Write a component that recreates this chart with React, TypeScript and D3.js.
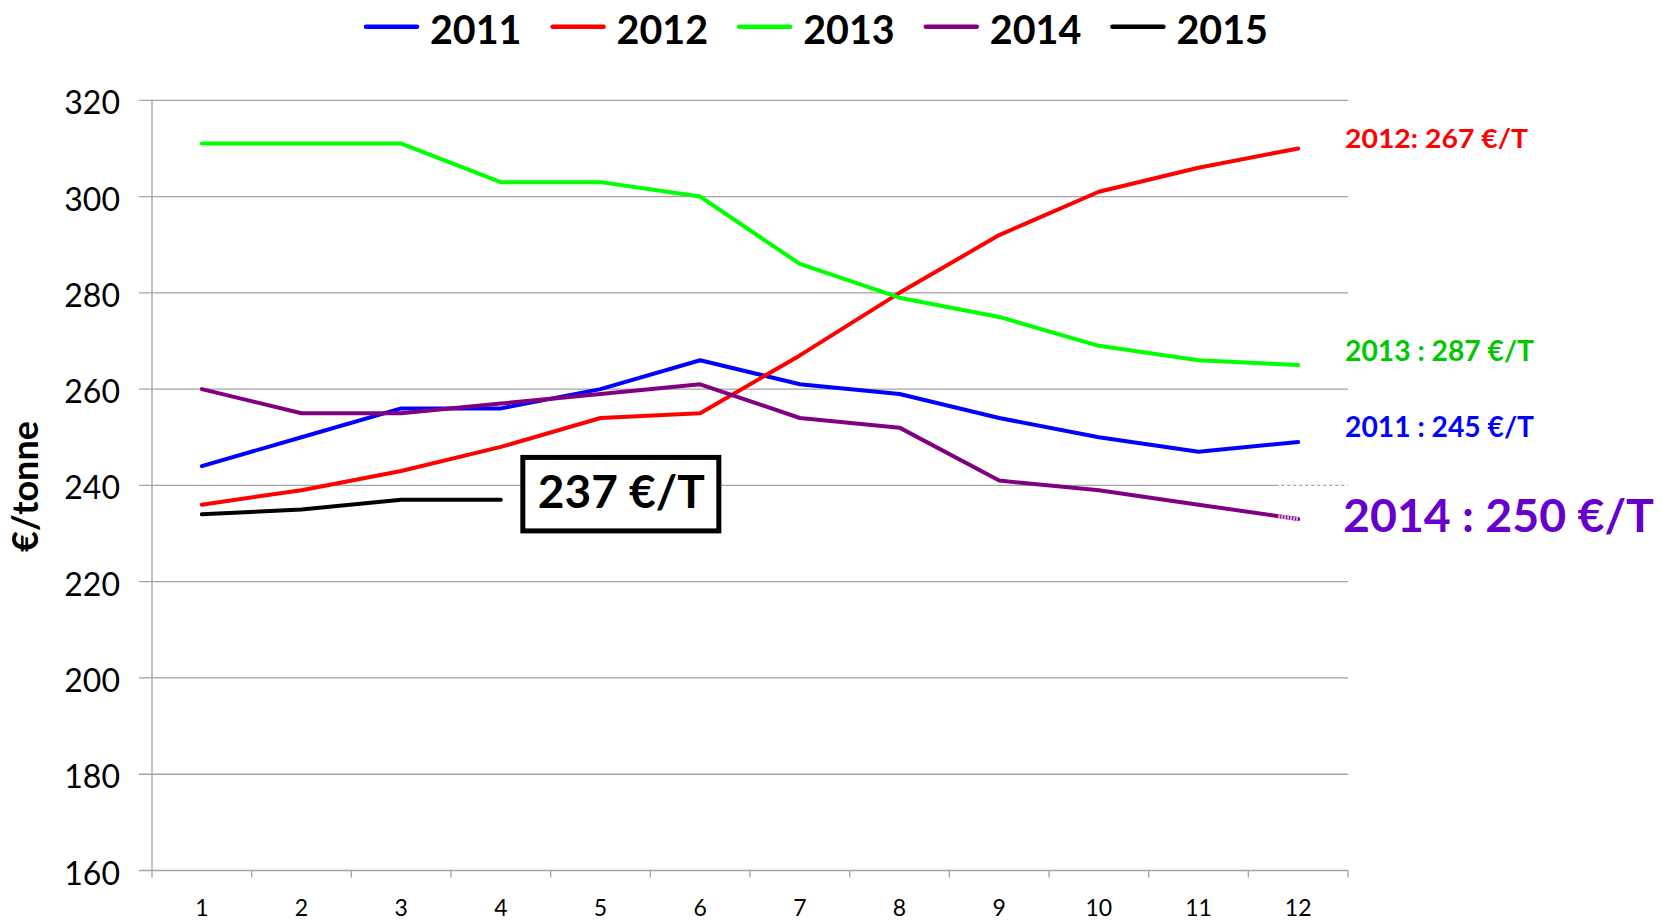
import React from "react";
import * as d3 from "d3";

const months = [1, 2, 3, 4, 5, 6, 7, 8, 9, 10, 11, 12];
const series2011 = [244, 250, 256, 256, 260, 266, 261, 259, 254, 250, 247, 249];
const series2012 = [236, 239, 243, 248, 254, 255, 267, 280, 292, 301, 306, 310];
const series2013 = [311, 311, 311, 303, 303, 300, 286, 279, 275, 269, 266, 265];
const series2014 = [260, 255, 255, 257, 259, 261, 254, 252, 241, 239, 236, 233];
const series2015 = [234, 235, 237, 237];
const yTicks = [160, 180, 200, 220, 240, 260, 280, 300, 320];
const legendNames = ["2011", "2012", "2013", "2014", "2015"];
const colors = ["#0000ff", "#ff0000", "#00ff00", "#800080", "#000000"];
const boxLabel = "237 €/T";
const sideLabels = [
  { text: "2012: 267 €/T", value: 310, color: "#ff0000" },
  { text: "2013 : 287 €/T", value: 265, color: "#00c800" },
  { text: "2011 : 245 €/T", value: 249, color: "#0000ff" },
  { text: "2014 : 250 €/T", value: 233, color: "#6600cc" },
];

const FONT = "Lato, 'Open Sans', sans-serif";

export default function App() {
  const W = 1662;
  const H = 921;
  const left = 152;
  const right = 1348;
  const top = 100.3;
  const bottom = 870.5;

  const x = d3.scaleBand<number>().domain(months).range([left, right]);
  const cx = (m: number) => (x(m) as number) + x.bandwidth() / 2;
  const y = d3.scaleLinear().domain([160, 320]).range([bottom, top]);

  const line = d3
    .line<number>()
    .x((_, i) => cx(months[i]))
    .y((v) => y(v));

  const all = [series2011, series2012, series2013, series2014, series2015];

  // fade segment at end of 2014
  const t = 0.8;
  const fx = cx(11) + (cx(12) - cx(11)) * t;
  const fy = y(series2014[10] + (series2014[11] - series2014[10]) * t);

  const boundaries = [...months.map((m) => x(m) as number), right];

  // legend
  const legendStart = 364;
  const legendStep = 186.6;

  // box
  const boxX0 = cx(4) + 22;
  const boxW = 196;
  const boxY0 = y(240) - 28;
  const boxH = 73.5;

  const sideX = [1345, 1345, 1345, 1343];
  const sideBaselines = [148, 361, 437, 531.5];
  const sideSizes = [27, 28, 28, 46];
  const sideWidths = [183, 189, 189, 311];

  return (
    <svg width={W} height={H} style={{ position: "absolute", left: 0, top: 0, background: "#fff" }}>
      <rect x={0} y={0} width={W} height={H} fill="#fff" />
      {/* gridlines */}
      {yTicks.map((v) => (
        <line key={v} x1={left - 13} x2={right} y1={y(v)} y2={y(v)} stroke="#a3a3a3" strokeWidth={1.3} />
      ))}
      {/* gridline artifact near 2014 end */}
      <line x1={fx} x2={right} y1={y(240)} y2={y(240)} stroke="#fff" strokeWidth={1.6} strokeDasharray="3,3" />
      {/* y axis */}
      <line x1={left} x2={left} y1={top} y2={bottom} stroke="#a3a3a3" strokeWidth={1.3} />
      {/* x ticks */}
      {boundaries.map((b, i) => (
        <line key={i} x1={b} x2={b} y1={bottom} y2={bottom + 7} stroke="#a3a3a3" strokeWidth={1.3} />
      ))}
      {/* y labels */}
      {yTicks.map((v) => (
        <text key={v} x={120} y={y(v) + 14} textAnchor="end" fontFamily={FONT} fontSize={32} fill="#000">
          {v}
        </text>
      ))}
      {/* x labels */}
      {months.map((m) => (
        <text key={m} x={cx(m)} y={916} textAnchor="middle" fontFamily={FONT} fontSize={23} fill="#000">
          {m}
        </text>
      ))}
      {/* y title */}
      <text
        transform={`translate(38,486.5) rotate(-90)`}
        textAnchor="middle"
        fontFamily={FONT}
        fontWeight="bold"
        fontSize={36}
        fill="#000"
      >
        €/tonne
      </text>
      {/* series */}
      {all.map((s, i) => (
        <path
          key={i}
          d={line(s) as string}
          fill="none"
          stroke={colors[i]}
          strokeWidth={4}
          strokeLinejoin="round"
          strokeLinecap="round"
        />
      ))}
      <line x1={fx} y1={fy} x2={cx(12)} y2={y(series2014[11])} stroke="#d9a6d9" strokeWidth={4} strokeDasharray="2,1" />
      {/* box label */}
      <rect x={boxX0} y={boxY0} width={boxW} height={boxH} fill="#fff" stroke="#000" strokeWidth={5} />
      <text
        x={boxX0 + 15}
        y={boxY0 + 50.5}
        fontFamily={FONT}
        fontWeight="bold"
        fontSize={46}
        fill="#000"
        textLength={167}
        lengthAdjust="spacingAndGlyphs"
      >
        {boxLabel}
      </text>
      {/* legend */}
      {legendNames.map((n, i) => (
        <g key={n}>
          <line
            x1={legendStart + i * legendStep + 2}
            x2={legendStart + i * legendStep + 53}
            y1={26.7}
            y2={26.7}
            stroke={colors[i]}
            strokeWidth={4.5}
            strokeLinecap="round"
          />
          <text
            x={legendStart + i * legendStep + 66}
            y={44.3}
            fontFamily={FONT}
            fontWeight="bold"
            fontSize={40}
            fill="#000"
            textLength={91.5}
            lengthAdjust="spacingAndGlyphs"
          >
            {n}
          </text>
        </g>
      ))}
      {/* side labels */}
      {sideLabels.map((s, i) => (
        <text
          key={s.text}
          x={sideX[i]}
          y={sideBaselines[i]}
          fontFamily={FONT}
          fontWeight="bold"
          fontSize={sideSizes[i]}
          fill={s.color}
          textLength={sideWidths[i]}
          lengthAdjust="spacingAndGlyphs"
        >
          {s.text}
        </text>
      ))}
    </svg>
  );
}
